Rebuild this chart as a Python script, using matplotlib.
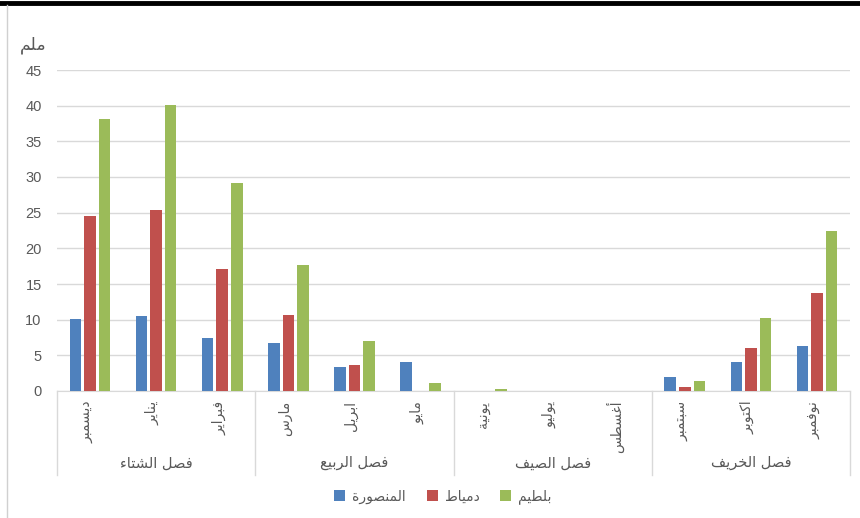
import numpy as np
import matplotlib
matplotlib.use("Agg")
import matplotlib.pyplot as plt
import matplotlib.transforms as mtransforms
from matplotlib.lines import Line2D

# Monthly rainfall (mm) for three stations, Dec -> Nov
months = ["ديسمبر", "يناير", "فبراير", "مارس", "ابريل", "مايو",
          "يونية", "يوليو", "أغسطس", "سبتمبر", "اكتوبر", "نوفمبر"]
seasons = ["فصل الشتاء", "فصل الربيع", "فصل الصيف", "فصل الخريف"]
station_names = ["المنصورة", "دمياط", "بلطيم"]
mansoura = [10.1, 10.5, 7.4, 6.7, 3.3, 4.1, 0.0, 0.0, 0.0, 2.0, 4.1, 6.3]
damietta = [24.5, 25.4, 17.1, 10.6, 3.6, 0.0, 0.0, 0.0, 0.0, 0.5, 6.0, 13.8]
baltim = [38.2, 40.1, 29.1, 17.6, 7.0, 1.1, 0.3, 0.0, 0.0, 1.4, 10.3, 22.4]
y_ticks = [0, 5, 10, 15, 20, 25, 30, 35, 40, 45]
y_label = "ملم"

colors = ["#4f81bd", "#c0504d", "#9bbb59"]
grid_color = "#d9d9d9"
text_color = "#595959"

# Arabic letters in the order of the presentation forms block (U+FE80 ...)
# with the number of forms each one has (isolated, final, initial, medial)
_letters = [("\u0621", 1), ("\u0622", 2), ("\u0623", 2), ("\u0624", 2),
            ("\u0625", 2), ("\u0626", 4), ("\u0627", 2), ("\u0628", 4),
            ("\u0629", 2), ("\u062A", 4), ("\u062B", 4), ("\u062C", 4),
            ("\u062D", 4), ("\u062E", 4), ("\u062F", 2), ("\u0630", 2),
            ("\u0631", 2), ("\u0632", 2), ("\u0633", 4), ("\u0634", 4),
            ("\u0635", 4), ("\u0636", 4), ("\u0637", 4), ("\u0638", 4),
            ("\u0639", 4), ("\u063A", 4), ("\u0641", 4), ("\u0642", 4),
            ("\u0643", 4), ("\u0644", 4), ("\u0645", 4), ("\u0646", 4),
            ("\u0647", 4), ("\u0648", 2), ("\u0649", 2), ("\u064A", 4)]

FORMS = {}
code = 0xFE80
for ch, n in _letters:
    FORMS[ch] = [chr(code + k) for k in range(n)]
    code += n


# matplotlib does no Arabic shaping: pick the joined forms and put them in visual order
def shape(text):
    out = []
    for i, ch in enumerate(text):
        forms = FORMS.get(ch)
        if forms is None:
            out.append(ch)
            continue
        prev = text[i - 1] if i > 0 else ""
        nxt = text[i + 1] if i + 1 < len(text) else ""
        join_prev = prev in FORMS and len(FORMS[prev]) == 4
        join_next = len(forms) == 4 and nxt in FORMS and len(FORMS[nxt]) > 1
        if join_prev and join_next:
            out.append(forms[3])
        elif join_next:
            out.append(forms[2])
        elif join_prev and len(forms) > 1:
            out.append(forms[1])
        else:
            out.append(forms[0])
    return "".join(reversed(out))


plt.rcParams["font.family"] = ["Liberation Sans", "DejaVu Sans"]

fig = plt.figure(figsize=(8.6, 5.18), dpi=100)
ax = fig.add_axes([57 / 860, 1 - 391 / 518, 793 / 860, 321 / 518])

x = np.arange(len(months))
width = 0.175
offsets = [-0.22, 0.0, 0.22]
for series, name, color, off in zip([mansoura, damietta, baltim], station_names, colors, offsets):
    ax.bar(x + off, series, width, color=color, label=shape(name), zorder=3)

ax.set_xlim(-0.5, len(months) - 0.5)
ax.set_ylim(0, 45)
ax.set_yticks(y_ticks)
ax.yaxis.grid(True, color=grid_color, linewidth=1)
ax.set_axisbelow(True)
for side in ["top", "right", "left"]:
    ax.spines[side].set_visible(False)
ax.spines["bottom"].set_color(grid_color)
ax.tick_params(axis="y", length=0, pad=11, labelsize=10.5, labelcolor=text_color)

ax.set_xticks(x - 0.05, [shape(m) for m in months], rotation=90, fontsize=10,
              family=["DejaVu Sans"])
ax.tick_params(axis="x", length=0, pad=7, labelcolor=text_color)

# season group labels and separators under the month labels
trans = mtransforms.blended_transform_factory(ax.transData, ax.transAxes)
for b in [-0.5, 2.5, 5.5, 8.5, 11.5]:
    ax.add_line(Line2D([b, b], [0, -0.262], transform=trans, color=grid_color,
                       linewidth=1, clip_on=False))
for i, s in enumerate(seasons):
    ax.text(3 * i + 1, -0.224, shape(s), transform=trans, ha="center", va="center",
            fontsize=10.5, color=text_color, family=["DejaVu Sans"])

fig.text(33 / 860, 1 - 45 / 518, shape(y_label), ha="center", va="center",
         fontsize=12.5, color=text_color, family=["DejaVu Sans"])

ax.legend(loc="center", bbox_to_anchor=(443 / 860, 1 - 497 / 518),
          bbox_transform=fig.transFigure, ncol=3, frameon=False, fontsize=10,
          handlelength=0.8, handleheight=0.8, handletextpad=0.5, columnspacing=1.5,
          labelcolor=text_color)

# frame bits from the screenshot: black bar on top, grey line on the left
fig.add_artist(Line2D([0, 1], [1 - 2.5 / 518, 1 - 2.5 / 518], transform=fig.transFigure,
                      color="black", linewidth=3.5))
fig.add_artist(Line2D([7 / 860, 7 / 860], [0, 1 - 5 / 518], transform=fig.transFigure,
                      color="#d0d0d0", linewidth=1))

plt.savefig("out.png", dpi=100)
